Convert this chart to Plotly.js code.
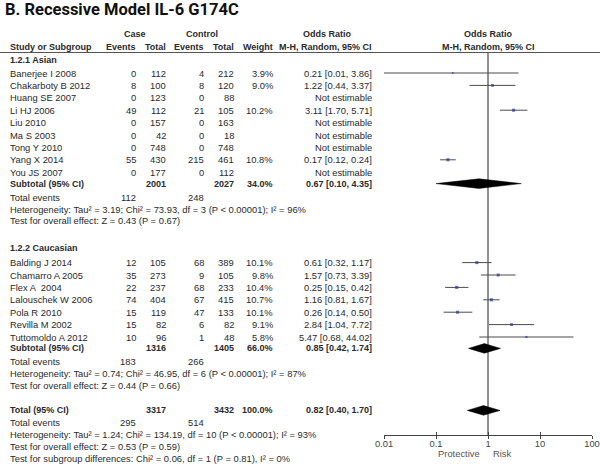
<!DOCTYPE html>
<html>
<head>
<meta charset="utf-8">
<script src="https://cdn.plot.ly/plotly-3.0.1.min.js"></script>
<style>
  body { margin: 0; background: #fff; }
  #chart { width: 600px; height: 466px; }
</style>
</head>
<body>
<div id="chart"></div>
<script>
// 1.2.1 Asian
const asianStudies = ['Banerjee I 2008', 'Chakarboty B 2012', 'Huang SE 2007', 'Li HJ 2006', 'Liu 2010', 'Ma S 2003', 'Tong Y 2010', 'Yang X 2014', 'You JS 2007'];
const asianCaseEvents = [0, 8, 0, 49, 0, 0, 0, 55, 0];
const asianCaseTotal = [112, 100, 123, 112, 157, 42, 748, 430, 177];
const asianCtrlEvents = [4, 8, 0, 21, 0, 0, 0, 215, 0];
const asianCtrlTotal = [212, 120, 88, 105, 163, 18, 748, 461, 112];
const asianWeight = [3.9, 9.0, null, 10.2, null, null, null, 10.8, null];
const asianOR = [0.21, 1.22, null, 3.11, null, null, null, 0.17, null];
const asianLo = [0.01, 0.44, null, 1.70, null, null, null, 0.12, null];
const asianHi = [3.86, 3.37, null, 5.71, null, null, null, 0.24, null];
const asianSubtotal = [0.67, 0.10, 4.35];      // OR, lo, hi
const asianSubTotals = [2001, 2027, 34.0];     // case total, control total, weight
const asianEvents = [112, 248];
const asianStats = ['Heterogeneity: Tau\u00b2 = 3.19; Chi\u00b2 = 73.93, df = 3 (P < 0.00001); I\u00b2 = 96%',
                    'Test for overall effect: Z = 0.43 (P = 0.67)'];

// 1.2.2 Caucasian
const caucStudies = ['Balding J 2014', 'Chamarro A 2005', 'Flex A  2004', 'Lalouschek W 2006', 'Pola R 2010', 'Revilla M 2002', 'Tuttomoldo A 2012'];
const caucCaseEvents = [12, 35, 22, 74, 15, 15, 10];
const caucCaseTotal = [105, 273, 237, 404, 119, 82, 96];
const caucCtrlEvents = [68, 9, 68, 67, 47, 6, 1];
const caucCtrlTotal = [389, 105, 233, 415, 133, 82, 48];
const caucWeight = [10.1, 9.8, 10.4, 10.7, 10.1, 9.1, 5.8];
const caucOR = [0.61, 1.57, 0.25, 1.16, 0.26, 2.84, 5.47];
const caucLo = [0.32, 0.73, 0.15, 0.81, 0.14, 1.04, 0.68];
const caucHi = [1.17, 3.39, 0.42, 1.67, 0.50, 7.72, 44.02];
const caucSubtotal = [0.85, 0.42, 1.74];
const caucSubTotals = [1316, 1405, 66.0];
const caucEvents = [183, 266];
const caucStats = ['Heterogeneity: Tau\u00b2 = 0.74; Chi\u00b2 = 46.95, df = 6 (P < 0.00001); I\u00b2 = 87%',
                   'Test for overall effect: Z = 0.44 (P = 0.66)'];

// overall
const overall = [0.82, 0.40, 1.70];
const overallTotals = [3317, 3432, 100.0];
const overallEvents = [295, 514];
const overallStats = ['Heterogeneity: Tau\u00b2 = 1.24; Chi\u00b2 = 134.19, df = 10 (P < 0.00001); I\u00b2 = 93%',
                      'Test for overall effect: Z = 0.53 (P = 0.59)',
                      'Test for subgroup differences: Chi\u00b2 = 0.06, df = 1 (P = 0.81), I\u00b2 = 0%'];

const axisTicks = [0.01, 0.1, 1, 10, 100];

// column right edges (px)
const colName = 8, colCaseEv = 138, colCaseTot = 168, colCtrlEv = 206, colCtrlTot = 236, colWeight = 275, colOR = 374;
const ROW = 12.4;
const FONT = 'Liberation Sans, Arial, sans-serif';
const TXT = '#2a2a2a';

const annotations = [];
function txt(x, y, text, anchor, bold, extra) {
    annotations.push(Object.assign({
        xref: 'x', yref: 'y', x: x, y: y, text: bold ? '<b>' + text + '</b>' : text,
        xanchor: anchor || 'left', yanchor: 'middle', showarrow: false,
        font: { family: FONT, size: bold ? 9 : 9.4, color: TXT }
    }, extra || {}));
}
const fmtCI = (o, l, h) => o.toFixed(2) + ' [' + l.toFixed(2) + ', ' + h.toFixed(2) + ']';

const ciX = [], ciY = [], sqX = [], sqY = [], sqS = [];
const diamonds = [];

function drawGroup(title, yHead, yFirst, studies, ce, ct, te, tt, w, or, lo, hi, sub, subTot, ev, stats) {
    txt(colName, yHead, title, 'left', true);
    studies.forEach((s, i) => {
        const y = yFirst + i * ROW;
        txt(colName, y, s);
        txt(colCaseEv, y, String(ce[i]), 'right');
        txt(colCaseTot, y, String(ct[i]), 'right');
        txt(colCtrlEv, y, String(te[i]), 'right');
        txt(colCtrlTot, y, String(tt[i]), 'right');
        if (or[i] == null) {
            txt(colOR, y, 'Not estimable', 'right');
        } else {
            txt(colWeight, y, w[i].toFixed(1) + '%', 'right');
            txt(colOR, y, fmtCI(or[i], lo[i], hi[i]), 'right');
            ciX.push(lo[i], hi[i], null); ciY.push(y, y, null);
            sqX.push(or[i]); sqY.push(y); sqS.push(1 + w[i] * 0.2);
        }
    });
    const ySub = yFirst + (studies.length - 1) * ROW + 11.4;
    txt(colName, ySub, 'Subtotal (95% CI)', 'left', true);
    txt(colCaseTot, ySub, String(subTot[0]), 'right', true);
    txt(colCtrlTot, ySub, String(subTot[1]), 'right', true);
    txt(colWeight, ySub, subTot[2].toFixed(1) + '%', 'right', true);
    txt(colOR, ySub, fmtCI(sub[0], sub[1], sub[2]), 'right', true);
    diamonds.push([sub, ySub]);
    const yEv = ySub + 13.5;
    txt(colName, yEv, 'Total events');
    txt(colCaseEv, yEv, String(ev[0]), 'right');
    txt(colCtrlEv, yEv, String(ev[1]), 'right');
    stats.forEach((s, i) => txt(colName, yEv + 12 * (i + 1) - 0.5 * i, s));
    return yEv + 12 * stats.length;
}

// header
annotations.push({ xref: 'paper', yref: 'y', x: 3 / 600, y: 9, text: '<b>B. Recessive Model IL-6 G174C</b>', xanchor: 'left', yanchor: 'middle', showarrow: false, font: { family: 'Roboto, sans-serif', size: 16.5, color: '#111' } });
txt(135, 34, 'Case', 'center', true);
txt(202, 34, 'Control', 'center', true);
txt(327, 34, 'Odds Ratio', 'center', true);
txt(colName, 46.5, 'Study or Subgroup', 'left', true);
txt(colCaseEv, 46.5, 'Events', 'right', true);
txt(colCaseTot, 46.5, 'Total', 'right', true);
txt(colCtrlEv, 46.5, 'Events', 'right', true);
txt(colCtrlTot, 46.5, 'Total', 'right', true);
txt(colWeight, 46.5, 'Weight', 'right', true);
txt(colOR, 46.5, 'M-H, Random, 95% CI', 'right', true);
annotations.push({ xref: 'x2', yref: 'y', x: 0, y: 34, text: '<b>Odds Ratio</b>', showarrow: false, yanchor: 'middle', font: { family: FONT, size: 9, color: TXT } });
annotations.push({ xref: 'x2', yref: 'y', x: 0, y: 46.5, text: '<b>M-H, Random, 95% CI</b>', showarrow: false, yanchor: 'middle', font: { family: FONT, size: 9, color: TXT } });

const endA = drawGroup('1.2.1 Asian', 59.5, 73, asianStudies, asianCaseEvents, asianCaseTotal, asianCtrlEvents, asianCtrlTotal,
    asianWeight, asianOR, asianLo, asianHi, asianSubtotal, asianSubTotals, asianEvents, asianStats);
const endC = drawGroup('1.2.2 Caucasian', endA + 26.5, endA + 41.5, caucStudies, caucCaseEvents, caucCaseTotal, caucCtrlEvents, caucCtrlTotal,
    caucWeight, caucOR, caucLo, caucHi, caucSubtotal, caucSubTotals, caucEvents, caucStats);

// overall total
const yTot = endC + 24.5;
txt(colName, yTot, 'Total (95% CI)', 'left', true);
txt(colCaseTot, yTot, String(overallTotals[0]), 'right', true);
txt(colCtrlTot, yTot, String(overallTotals[1]), 'right', true);
txt(colWeight, yTot, overallTotals[2].toFixed(1) + '%', 'right', true);
txt(colOR, yTot, fmtCI(overall[0], overall[1], overall[2]), 'right', true);
diamonds.push([overall, yTot]);
txt(colName, yTot + 12.5, 'Total events');
txt(colCaseEv, yTot + 12.5, String(overallEvents[0]), 'right');
txt(colCtrlEv, yTot + 12.5, String(overallEvents[1]), 'right');
overallStats.forEach((s, i) => txt(colName, yTot + 24.5 + i * 12, s));

const axisY = 435;
annotations.push({ xref: 'x2', yref: 'y', x: -0.12, y: axisY + 18.5, text: 'Protective', xanchor: 'right', yanchor: 'middle', showarrow: false, font: { family: FONT, size: 9.4, color: '#555' } });
annotations.push({ xref: 'x2', yref: 'y', x: 0.05, y: axisY + 18.5, text: 'Risk', xanchor: 'left', yanchor: 'middle', showarrow: false, font: { family: FONT, size: 9.4, color: '#555' } });

const data = [
    { x: [1, 1], y: [52.5, axisY], xaxis: 'x2', yaxis: 'y', mode: 'lines', line: { color: '#222', width: 1 }, hoverinfo: 'skip' },
    { x: ciX, y: ciY, xaxis: 'x2', yaxis: 'y', mode: 'lines', line: { color: '#4a4a4a', width: 1 }, connectgaps: false, hoverinfo: 'skip' },
    { x: sqX, y: sqY, xaxis: 'x2', yaxis: 'y', mode: 'markers', marker: { symbol: 'square', size: sqS, color: '#283593', line: { width: 0 } } }
];
diamonds.forEach(([d, y]) => {
    const h = 4.8;
    data.push({ x: [d[1], d[0], d[2], d[0], d[1]], y: [y, y - h, y, y + h, y], xaxis: 'x2', yaxis: 'y',
        mode: 'lines', fill: 'toself', fillcolor: '#000', line: { color: '#000', width: 0.5 }, hoverinfo: 'skip' });
});
data.push({ x: [], y: [], xaxis: 'x3', yaxis: 'y', mode: 'markers' });

const axisPos = (466 - axisY) / 466;
const layout = {
    width: 600, height: 466,
    margin: { l: 0, r: 0, t: 0, b: 0 },
    paper_bgcolor: '#fff', plot_bgcolor: 'rgba(0,0,0,0)',
    showlegend: false,
    xaxis: { range: [0, 600], domain: [0, 1], visible: false, fixedrange: true },
    yaxis: { range: [466, 0], domain: [0, 1], visible: false, fixedrange: true },
    // labelled axis with upward ticks; its labels then sit close to the line
    xaxis2: {
        type: 'log', range: [-2, 2], domain: [384 / 600, 592 / 600], anchor: 'free', position: axisPos,
        showline: true, linecolor: '#444', linewidth: 1, showgrid: false, zeroline: false,
        ticks: 'inside', ticklen: 3, tickcolor: '#444', tickmode: 'array',
        tickvals: axisTicks, ticktext: axisTicks.map(String),
        tickfont: { family: FONT, size: 9.4, color: '#444' }
    },
    // second axis only for the downward half of the ticks
    xaxis3: {
        type: 'log', range: [-2, 2], domain: [384 / 600, 592 / 600], anchor: 'free', position: axisPos, overlaying: 'x2',
        showline: false, showgrid: false, zeroline: false, ticks: 'outside', ticklen: 3, tickcolor: '#444',
        tickmode: 'array', tickvals: axisTicks, showticklabels: false
    },
    shapes: [
        { type: 'line', xref: 'paper', yref: 'y', x0: 0, x1: 1, y0: 52.5, y1: 52.5, line: { color: '#555', width: 1 } }
    ],
    annotations: annotations
};

Plotly.newPlot('chart', data, layout, { displayModeBar: false, staticPlot: true });
</script>
</body>
</html>
